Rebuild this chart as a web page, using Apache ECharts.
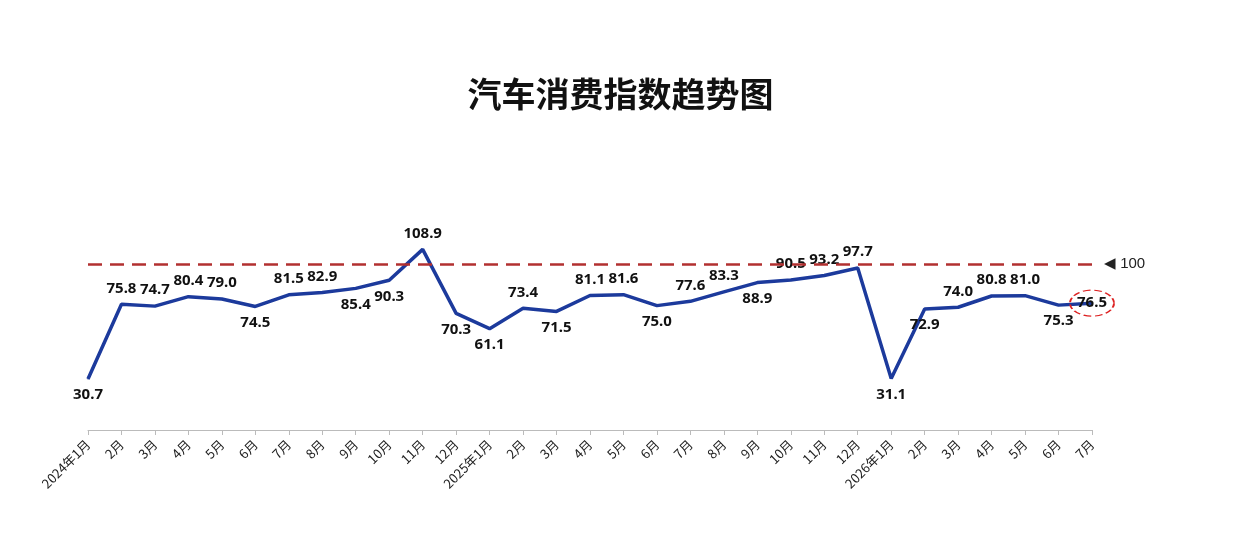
<!DOCTYPE html>
<html><head><meta charset="utf-8">
<script src="https://cdn.jsdelivr.net/npm/echarts@6/dist/echarts.min.js"></script>
<style>html,body{margin:0;padding:0;background:#fff}#c{width:1241px;height:552px}</style>
</head><body><div id="c"></div>
<script>
const categories = ['2024年1月','2月','3月','4月','5月','6月','7月','8月','9月','10月','11月','12月',
 '2025年1月','2月','3月','4月','5月','6月','7月','8月','9月','10月','11月','12月',
 '2026年1月','2月','3月','4月','5月','6月','7月'];
const values = [30.7,75.8,74.7,80.4,79.0,74.5,81.5,82.9,85.4,90.3,108.9,70.3,
 61.1,73.4,71.5,81.1,81.6,75.0,77.6,83.3,88.9,90.5,93.2,97.7,
 31.1,72.9,74.0,80.8,81.0,75.3,76.5];
const labelPos = ['bottom','top','top','top','top','bottom','top','top','bottom','bottom','top','bottom',
 'bottom','top','bottom','top','top','bottom','top','top','bottom','top','top','top',
 'bottom','bottom','top','top','top','bottom','inside'];
const refLine = 100;

const data = values.map((v,i)=>({value:v,label:{position:labelPos[i]}}));
const chart = echarts.init(document.getElementById('c'));
chart.setOption({
  animation:false,
  title:{text:'汽车消费指数趋势图',left:'center',top:72,textStyle:{fontSize:34,fontWeight:'bold',color:'#111',fontFamily:'Noto Sans CJK SC'}},
  grid:{left:88,right:149,top:231,bottom:122},
  xAxis:{type:'category',data:categories,boundaryGap:false,
    axisLine:{lineStyle:{color:'#bbb'}},axisTick:{show:true,alignWithLabel:true,lineStyle:{color:'#bbb'}},
    axisLabel:{rotate:45,fontSize:13,color:'#222',interval:0,margin:12,fontFamily:'Noto Sans CJK SC'}},
  yAxis:{type:'value',min:0,max:120,show:false,splitLine:{show:false}},
  series:[{type:'line',data:data,symbol:'circle',symbolSize:1,showAllSymbol:true,
    itemStyle:{color:'#1c3a9c'},
    lineStyle:{color:'#1c3a9c',width:3.5},
    label:{show:true,fontSize:15,fontWeight:'bold',color:'#111',distance:8,fontFamily:'Noto Sans',formatter:p=>p.value.toFixed(1)},
    labelLayout:{hideOverlap:false},
    markLine:{silent:true,symbol:'none',data:[{yAxis:refLine}],
      lineStyle:{color:'#b23030',type:[14,8],width:2.5},
      label:{position:'end',formatter:'◀ 100',fontSize:15,color:'#222',distance:12}},
    markPoint:{silent:true,data:[{coord:[30,76.5]}],symbol:'circle',symbolSize:[44,26],
      itemStyle:{color:'rgba(0,0,0,0)',borderColor:'#d22',borderType:'dashed',borderWidth:1.5},
      label:{show:false}}
  }]
});
</script></body></html>
